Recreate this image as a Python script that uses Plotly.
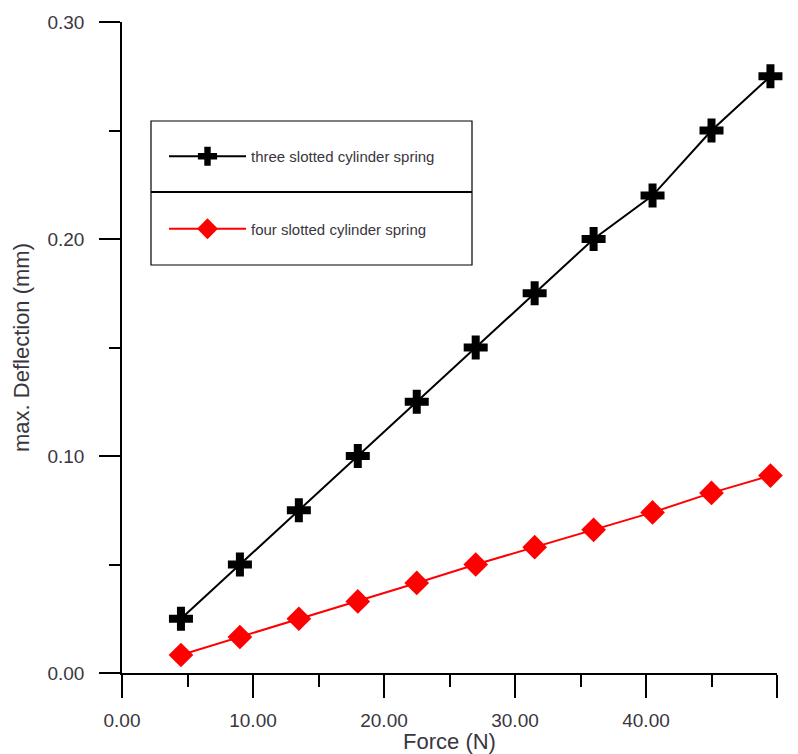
import plotly.graph_objects as go

force = [4.5, 9.0, 13.5, 18.0, 22.5, 27.0, 31.5, 36.0, 40.5, 45.0, 49.5]
three_slotted = [0.025, 0.050, 0.075, 0.100, 0.125, 0.150, 0.175, 0.200, 0.220, 0.250, 0.275]
four_slotted = [0.0083, 0.0166, 0.025, 0.033, 0.0415, 0.050, 0.058, 0.066, 0.074, 0.083, 0.091]
x_ticks = [0, 10, 20, 30, 40, 50]
y_ticks = [0.0, 0.1, 0.2, 0.3]

FONT = "Liberation Sans, Arial, sans-serif"
TXT = "#3a3640"

fig = go.Figure()
fig.add_trace(go.Scatter(
    x=force, y=three_slotted, mode="lines+markers",
    name="three slotted cylinder spring", legendgroup="a",
    line=dict(color="black", width=2),
    marker=dict(symbol="cross", size=20, color="black"),
    cliponaxis=False,
))
fig.add_trace(go.Scatter(
    x=force, y=four_slotted, mode="lines+markers",
    name="four slotted cylinder spring", legendgroup="b",
    line=dict(color="#ff0000", width=2),
    marker=dict(symbol="diamond", size=19, color="#ff0000"),
    cliponaxis=False,
))

def px_x(p):
    return (p - 122) / 655.0

def px_y(p):
    return (673 - p) / 651.0

# legend frame and divider
fig.add_shape(type="rect", xref="paper", yref="paper",
              x0=px_x(151), x1=px_x(472), y0=px_y(265), y1=px_y(121),
              line=dict(color="black", width=1.2), fillcolor="rgba(0,0,0,0)")
fig.add_shape(type="line", xref="paper", yref="paper",
              x0=px_x(151), x1=px_x(472), y0=px_y(192), y1=px_y(192),
              line=dict(color="black", width=2))

fig.update_layout(
    width=798, height=754,
    margin=dict(l=122, r=21, t=22, b=81, autoexpand=False),
    paper_bgcolor="white", plot_bgcolor="white",
    font=dict(family=FONT, color=TXT),
    showlegend=True,
    legend=dict(
        x=px_x(164), y=px_y(140), xanchor="left", yanchor="top",
        bgcolor="rgba(0,0,0,0)", borderwidth=0,
        font=dict(family=FONT, size=15, color=TXT),
        traceorder="grouped", tracegroupgap=50, itemwidth=77,
    ),
    xaxis=dict(
        range=[0, 50], showgrid=False, zeroline=False, automargin=False,
        showline=True, linecolor="black", linewidth=1.5,
        tickmode="array", tickvals=x_ticks, ticktext=[f"{v:.2f}" for v in x_ticks],
        ticks="outside", ticklen=23, tickwidth=1.5, tickcolor="black",
        ticklabelstandoff=6,
        minor=dict(dtick=5, tick0=0, ticks="outside", ticklen=12, tickwidth=1.5, tickcolor="black"),
        tickfont=dict(size=19, color=TXT, family=FONT),
        title=dict(text="Force (N)", font=dict(size=22, color=TXT, family=FONT), standoff=4),
    ),
    yaxis=dict(
        range=[0, 0.30], showgrid=False, zeroline=False, automargin=False,
        showline=True, linecolor="black", linewidth=1.5,
        tickmode="array", tickvals=y_ticks, ticktext=[f"{v:.2f}" for v in y_ticks],
        ticks="outside", ticklen=21, tickwidth=1.5, tickcolor="black",
        ticklabelstandoff=11,
        minor=dict(dtick=0.05, tick0=0, ticks="outside", ticklen=11, tickwidth=1.5, tickcolor="black"),
        tickfont=dict(size=19, color=TXT, family=FONT),
        title=dict(text="max. Deflection (mm)", font=dict(size=22, color=TXT, family=FONT), standoff=12),
    ),
)

fig.write_html("out.html")
